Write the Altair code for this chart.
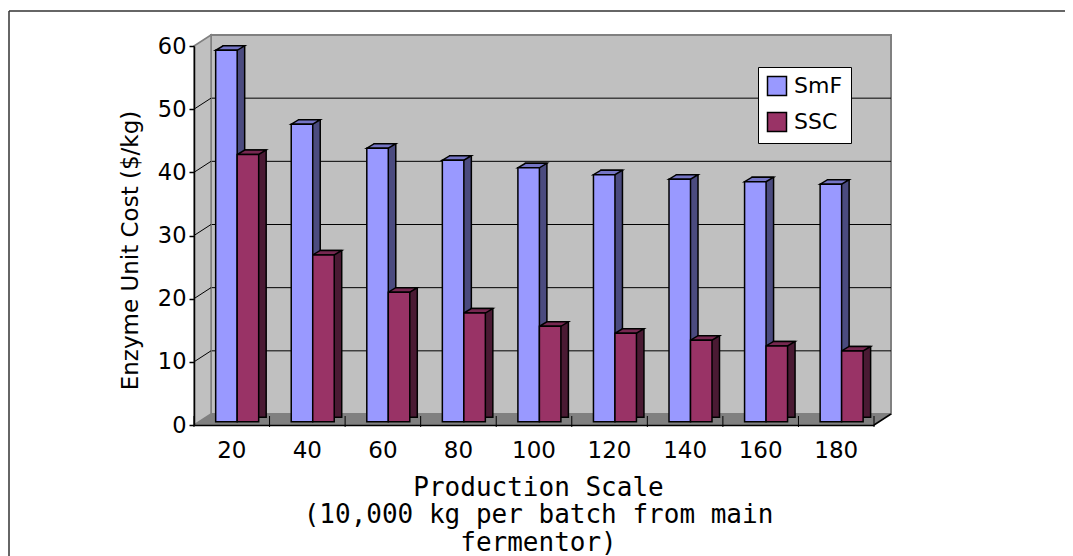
import altair as alt
import pandas as pd

# ---------------- data ----------------
scales = ["20", "40", "60", "80", "100", "120", "140", "160", "180"]
smf = [58.8, 47.1, 43.3, 41.4, 40.2, 39.1, 38.4, 38.0, 37.6]
ssc = [42.3, 26.4, 20.5, 17.2, 15.1, 14.0, 12.9, 12.0, 11.2]
series = ["SmF", "SSC"]
front_colors = ["#9999ff", "#993366"]
side_colors = ["#4b4b7f", "#4a1a33"]
top_colors = ["#7474c4", "#772851"]
y_ticks = [0, 10, 20, 30, 40, 50, 60]
y_title = "Enzyme Unit Cost ($/kg)"
x_title = ["Production Scale", "(10,000 kg per batch from main", "fermentor)"]

# ---------------- geometry (px, style only) ----------------
W, H = 680, 379
DX, DY = 17, 11        # wall depth
BX, BY = 5.4, 3.3      # bars' front plane shift
BDX, BDY = 7.5, 4.5    # bar depth
PAD_L, PAD_T, PAD_R, PAD_B = 186, 38, 191, 131

P_INNER = 0.431
P_OUTER = P_INNER / 2
step = W / (len(scales) - P_INNER + 2 * P_OUTER)
bar_w = step * (1 - P_INNER) / len(series)


def poly_symbol(points, cx, cy):
    s = max(max(abs(px - cx), abs(py - cy)) for px, py in points)
    path = "M" + " L".join(f"{(px - cx) / s:.5f},{(py - cy) / s:.5f}" for px, py in points) + " Z"
    return path, (2 * s) ** 2


floor_path, floor_size = poly_symbol([(0, H), (W, H), (W + DX, H - DY), (DX, H - DY)],
                                     (W + DX) / 2, H - DY / 2)
side_path, side_size = poly_symbol([(0, 0), (DX, -DY), (DX, H - DY), (0, H)],
                                   DX / 2, (H - DY) / 2)
cap_path, cap_size = poly_symbol([(-(bar_w + BDX) / 2, BDY / 2), ((bar_w - BDX) / 2, BDY / 2),
                                  ((bar_w + BDX) / 2, -BDY / 2), (-(bar_w - BDX) / 2, -BDY / 2)],
                                 0, 0)

# ---------------- tables ----------------
rows = []
for i, s in enumerate(scales):
    for j, (name, vals) in enumerate(zip(series, [smf, ssc])):
        rows.append({"scale": s, "series": name, "cost": vals[i],
                     "side": side_colors[j], "top": top_colors[j]})
bars_df = pd.DataFrame(rows)
ticks_df = pd.DataFrame({"v": y_ticks})
cats_df = pd.DataFrame({"scale": scales})
one = pd.DataFrame({"k": [0]})

# ---------------- scales / axes ----------------
xscale = alt.Scale(domain=scales, paddingInner=P_INNER, paddingOuter=P_OUTER)
yscale = alt.Scale(domain=[0, 60], nice=False, zero=True)

xaxis = alt.Axis(domain=True, domainColor="black", domainWidth=1.5, ticks=False,
                 labelFont="DejaVu Sans", labelFontSize=23, labelColor="black",
                 labelPadding=14, labelAngle=0, zindex=1,
                 title=x_title, titleFont="DejaVu Sans Mono", titleFontSize=26,
                 titleFontWeight="normal", titleColor="black", titleLineHeight=27.5,
                 titleX=344, titleY=70, titleAlign="center", titleBaseline="alphabetic")
yaxis = alt.Axis(values=y_ticks, domain=True, domainColor="black", domainWidth=1.5,
                 ticks=True, tickColor="black", tickSize=5, tickWidth=1.5,
                 labelFont="DejaVu Sans", labelFontSize=22.5, labelColor="black",
                 labelPadding=3, labelFlush=False, labelOverlap=False, grid=False, zindex=1,
                 title=y_title, titleFont="DejaVu Sans", titleFontSize=23,
                 titleFontWeight="normal", titleColor="black", titleAngle=270,
                 titleX=-57, titleY=204, titleAlign="center", titleBaseline="alphabetic")

xenc = alt.X("scale:N", sort=scales, scale=xscale, axis=xaxis)
yenc = alt.Y("cost:Q", scale=yscale, axis=yaxis)
yv = alt.Y("v:Q", scale=yscale, axis=yaxis)


def xoff(shift):
    sc = alt.Scale(domain=series, range=[shift, shift + 2 * bar_w],
                   paddingInner=0, paddingOuter=0)
    return alt.XOffset("series:N", sort=series, scale=sc)


# ---------------- decoration layers ----------------
frame_top = alt.Chart(one).mark_rule(color="#333333", strokeWidth=1.5).encode(
    x=alt.value(-PAD_L + 1), x2=alt.value(W + PAD_R), y=alt.value(-PAD_T + 3))
frame_left = alt.Chart(one).mark_rule(color="#333333", strokeWidth=1.5).encode(
    x=alt.value(-PAD_L + 1), y=alt.value(-PAD_T + 3), y2=alt.value(H + PAD_B))

back_wall = alt.Chart(one).mark_rect(fill="#c0c0c0", stroke="#808080", strokeWidth=2).encode(
    x=alt.value(DX), x2=alt.value(DX + W), y=alt.value(-DY), y2=alt.value(H - DY))
side_wall = alt.Chart(one).mark_point(shape=side_path, size=side_size, filled=True,
                                      fill="#c0c0c0", stroke="#808080", strokeWidth=1.5,
                                      opacity=1).encode(
    x=alt.value(DX / 2), y=alt.value((H - DY) / 2))
grid = alt.Chart(ticks_df).transform_filter("datum.v > 0 && datum.v < 60").mark_rule(
    color="black", strokeWidth=1, yOffset=-DY).encode(
    x=alt.value(DX), x2=alt.value(DX + W), y=yv)
diag = alt.Chart(ticks_df).transform_filter("datum.v > 0 && datum.v < 60").mark_rule(
    color="black", strokeWidth=1, y2Offset=-DY).encode(
    x=alt.value(0), x2=alt.value(DX), y=yv, y2=alt.Y2("v"))
floor = alt.Chart(one).mark_point(shape=floor_path, size=floor_size, filled=True,
                                  fill="#808080", strokeWidth=0, opacity=1).encode(
    x=alt.value((W + DX) / 2), y=alt.value(H - DY / 2))
floor_edge = alt.Chart(one).mark_rule(color="black", strokeWidth=1.5).encode(
    x=alt.value(W), x2=alt.value(W + DX), y=alt.value(H), y2=alt.value(H - DY))
floor_end_tick = alt.Chart(one).mark_rule(color="black", strokeWidth=1).encode(
    x=alt.value(W), y=alt.value(H - 9), y2=alt.value(H + 2))
floor_ticks = alt.Chart(cats_df).mark_rule(color="black", strokeWidth=1,
                                           xOffset=-P_OUTER * step).encode(
    x=alt.X("scale:N", sort=scales, scale=xscale, axis=xaxis, bandPosition=0),
    y=alt.value(H - 9), y2=alt.value(H + 2))

# ---------------- bars ----------------
bar_side = alt.Chart(bars_df).mark_bar(
    stroke="black", strokeWidth=1.5,
    yOffset=-(BY + BDY), y2Offset=-(BY + BDY)).encode(
    x=xenc, xOffset=xoff(BX + BDX), y=yenc, fill=alt.Fill("side:N", scale=None))

caps = []
for j, name in enumerate(series):
    # point sits at the group centre; move it to this series' bar, then half the depth
    shift = BX + (j - (len(series) - 1) / 2) * bar_w + BDX / 2
    caps.append(
        alt.Chart(bars_df).transform_filter(alt.datum.series == name).mark_point(
            shape=cap_path, size=cap_size, filled=True, opacity=1, stroke="black",
            strokeWidth=1.5, xOffset=shift, yOffset=-(BY + BDY / 2)).encode(
            x=xenc, y=yenc, fill=alt.Fill("top:N", scale=None))
    )

bar_front = alt.Chart(bars_df).mark_bar(
    stroke="black", strokeWidth=1.5, yOffset=-BY, y2Offset=-BY).encode(
    x=xenc, xOffset=xoff(BX), y=yenc,
    color=alt.Color("series:N", sort=series,
                    scale=alt.Scale(domain=series, range=front_colors),
                    legend=alt.Legend(title=None, orient="none", legendX=564, legendY=21,
                                      fillColor="white", strokeColor="black", padding=8,
                                      symbolType="square", symbolSize=361,
                                      symbolStrokeColor="black", symbolStrokeWidth=1.5,
                                      labelFont="DejaVu Sans", labelFontSize=22,
                                      labelColor="black", rowPadding=10, labelOffset=6,
                                      symbolOpacity=1)))

chart = alt.layer(
    frame_top, frame_left, back_wall, grid, side_wall, diag, floor, floor_ticks,
    floor_end_tick, floor_edge, bar_side, *caps, bar_front
).resolve_scale(
    xOffset="independent"
).properties(
    width=W, height=H,
    autosize=alt.AutoSizeParams(type="none"),
    padding={"left": PAD_L, "top": PAD_T, "right": PAD_R, "bottom": PAD_B},
    background="white",
).configure_view(stroke=None).configure(font="DejaVu Sans")

chart.save("out.html", embed_options={"renderer": "svg", "actions": False})
